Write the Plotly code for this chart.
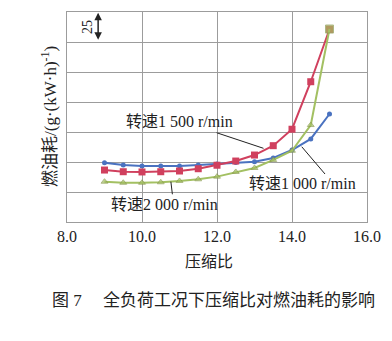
import plotly.graph_objects as go

# Data
compression_ratio = [9.0, 9.5, 10.0, 10.5, 11.0, 11.5, 12.0, 12.5, 13.0, 13.5, 14.0, 14.5, 15.0]
bsfc_1000 = [249.4, 247.5, 246.7, 246.7, 246.7, 247.5, 248.3, 249.6, 250.3, 253.3, 260.0, 269.2, 290.0]
bsfc_1500 = [243.3, 241.9, 241.7, 241.9, 242.5, 244.4, 247.3, 250.8, 255.8, 263.6, 277.3, 316.9, 360.6]
bsfc_2000 = [233.6, 232.7, 232.7, 233.1, 234.2, 235.6, 237.8, 241.7, 245.0, 251.7, 259.4, 280.8, 360.8]

labels = ["转速1 000 r/min", "转速1 500 r/min", "转速2 000 r/min"]
x_ticks = [8.0, 10.0, 12.0, 14.0, 16.0]
x_tick_text = ["8.0", "10.0", "12.0", "14.0", "16.0"]

FONT = "Liberation Serif, Noto Sans CJK SC, serif"
GRID = "#9c9c9c"

fig = go.Figure()
fig.add_trace(go.Scatter(x=compression_ratio, y=bsfc_1000, mode="lines+markers",
                         line=dict(color="#4a72c0", width=2),
                         marker=dict(symbol="circle", size=5, color="#4a72c0"),
                         name=labels[0]))
fig.add_trace(go.Scatter(x=compression_ratio, y=bsfc_1500, mode="lines+markers",
                         line=dict(color="#d0405e", width=2),
                         marker=dict(symbol="square", size=7, color="#d0405e"),
                         name=labels[1]))
green_symbols = ["triangle-up"] * (len(compression_ratio) - 1) + ["square"]
green_sizes = [6] * (len(compression_ratio) - 1) + [8]
fig.add_trace(go.Scatter(x=compression_ratio, y=bsfc_2000, mode="lines+markers",
                         line=dict(color="#a3c062", width=2),
                         marker=dict(symbol=green_symbols, size=green_sizes, color="#a3c062",
                                     line=dict(color="#8a9a50", width=1)),
                         name=labels[2]))

# leader lines
leaders = [
    (11.99, 274.4, 13.24, 261.4),
    (14.26, 262.7, 14.88, 240.0),
    (10.77, 233.6, 10.81, 223.1),
]
for x0, y0, x1, y1 in leaders:
    fig.add_shape(type="line", x0=x0, y0=y0, x1=x1, y1=y1,
                  line=dict(color="#222222", width=1))

ann_font = dict(family=FONT, size=16, color="#222222")
fig.add_annotation(x=11.01, y=283.6, text=labels[1], showarrow=False, font=ann_font,
                   xanchor="center", yanchor="middle")
fig.add_annotation(x=14.29, y=232.2, text=labels[0], showarrow=False, font=ann_font,
                   xanchor="center", yanchor="middle")
fig.add_annotation(x=10.61, y=214.2, text=labels[2], showarrow=False, font=ann_font,
                   xanchor="center", yanchor="middle")

# scale marker "25"
fig.add_annotation(x=8.53, y=362.5, text="25", textangle=-90, showarrow=False,
                   xanchor="center", yanchor="middle",
                   font=dict(family=FONT, size=14, color="#222222"))
fig.add_annotation(x=8.83, y=374.3, ax=8.83, ay=350.7, axref="x", ayref="y",
                   xref="x", yref="y", text="", showarrow=True,
                   arrowhead=2, startarrowhead=2, arrowside="end+start",
                   arrowsize=1, startarrowsize=1, arrowwidth=1.5, arrowcolor="#222222")

# y title
fig.add_annotation(xref="paper", yref="paper", x=-0.06, y=0.5,
                   xanchor="center", yanchor="middle",
                   text="燃油耗/(g·(kW·h)<sup>-1</sup>)", textangle=-90, showarrow=False,
                   font=dict(family=FONT, size=17, color="#222222"))
# x title
fig.add_annotation(xref="paper", yref="paper", x=0.473, y=-0.19,
                   xanchor="center", yanchor="middle",
                   text="压缩比", showarrow=False,
                   font=dict(family=FONT, size=16, color="#222222"))
# caption
fig.add_annotation(xref="paper", yref="paper", x=0.487, y=-0.376,
                   xanchor="center", yanchor="middle",
                   text="图 7　 全负荷工况下压缩比对燃油耗的影响", showarrow=False,
                   font=dict(family=FONT, size=17, color="#222222"))

fig.update_layout(
    width=392, height=341,
    margin=dict(l=67, r=25, t=12, b=119),
    plot_bgcolor="white", paper_bgcolor="white",
    showlegend=False,
    font=dict(family=FONT, size=16, color="#222222"),
)
fig.update_xaxes(range=[8, 16], tickmode="array", tickvals=x_ticks, ticktext=x_tick_text,
                 showgrid=True, gridcolor=GRID, gridwidth=1,
                 showline=True, linecolor=GRID, mirror=True,
                 ticks="", zeroline=False, tickfont=dict(size=16))
fig.update_yaxes(range=[200, 375], tickmode="linear", dtick=25, tick0=200, showticklabels=False,
                 showgrid=True, gridcolor=GRID, gridwidth=1,
                 showline=True, linecolor=GRID, mirror=True,
                 ticks="", zeroline=False)

fig.write_html("out.html")
